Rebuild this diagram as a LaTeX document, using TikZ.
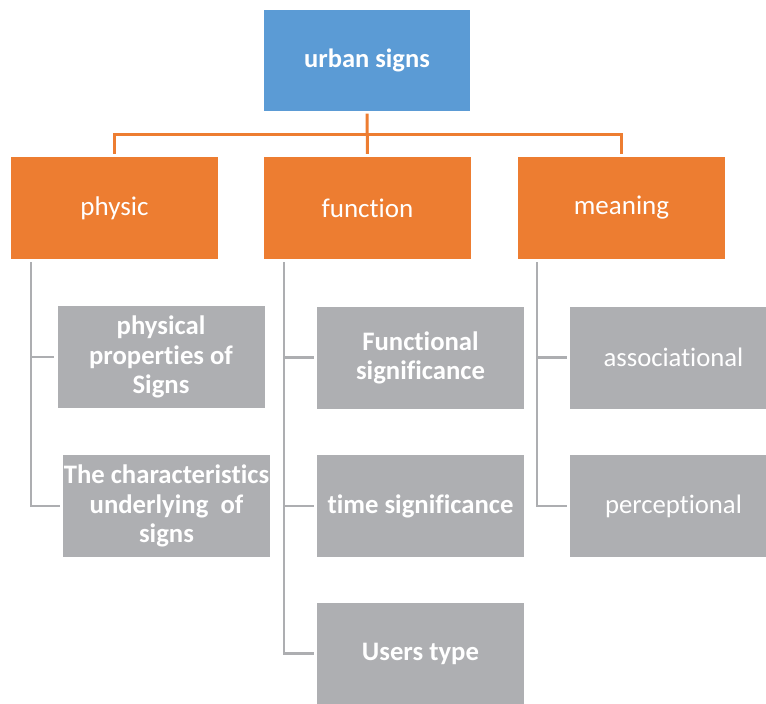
\documentclass[tikz,border=0pt]{standalone}
\usepackage{fontspec}
\setmainfont{Carlito}[Ligatures={NoCommon}]
\definecolor{rootblue}{HTML}{5B9BD5}
\definecolor{orng}{HTML}{ED7D31}
\definecolor{grybox}{HTML}{AEAFB2}
\definecolor{gryline}{HTML}{ADAEB1}
\tikzset{
  rootbox/.style={fill=rootblue, text=white, minimum width=206pt, minimum height=101pt, inner sep=0pt, align=center, font=\fontsize{26.5}{29}\selectfont\bfseries},
  catbox/.style={fill=orng, text=white, minimum width=207pt, minimum height=102pt, inner sep=0pt, align=center, font=\fontsize{27}{29}\selectfont},
  itembox/.style={fill=grybox, text=white, minimum width=207pt, minimum height=102pt, inner sep=0pt, align=center, font=\fontsize{26.7}{29.2}\selectfont\bfseries},
  itemplain/.style={itembox, font=\fontsize{26.7}{29.2}\selectfont},
  orangeline/.style={draw=orng, line width=3pt, shorten <=3pt, shorten >=3pt},
  grayline/.style={draw=gryline, line width=2.6pt, shorten >=3pt},
}
\begin{document}
\begin{tikzpicture}[x=1pt, y=-1pt]
\useasboundingbox (0,0) rectangle (766,704);
\clip (0,0) rectangle (766,704);
% top
\node[rootbox] (root) at (367,60) {urban signs};
\node[catbox] (physic) at (114.5,208) {physic};
\node[catbox] (function) at (367.5,208) {function};
\node[catbox] (meaning) at (621.5,208) {meaning};
% items
\node[itembox] (p1) at (161,357) {physical\\properties of\\Signs};
\node[itembox] (p2) at (166.5,506) {The characteristics\\underlying\ \ of\\signs};
\node[itembox] (f1) at (420.5,357.5) {Functional\\significance};
\node[itembox] (f2) at (420.5,506) {time significance};
\node[itembox] (f3) at (420.5,653.5) {Users type};
\node[itemplain] (m1) at (673.5,357.5) {associational};
\node[itemplain] (m2) at (673.5,506) {perceptional};
% orange connectors
\coordinate (bus) at (0,134);
\draw[orangeline] (root.south) -- (function.north);
\draw[orangeline] (physic.north) -- (physic.north |- bus) -- (meaning.north |- bus) -- (meaning.north);
% gray connectors
\coordinate (tp) at ([xshift=20pt,yshift=-3pt]physic.south west);
\coordinate (tf) at ([xshift=20pt,yshift=-3pt]function.south west);
\coordinate (tm) at ([xshift=19pt,yshift=-3pt]meaning.south west);
\draw[grayline] (tp) |- (p2.west);
\draw[grayline] (tp |- p1.west) -- (p1.west);
\draw[grayline] (tf) |- (f3.west);
\draw[grayline] (tf |- f1.west) -- (f1.west);
\draw[grayline] (tf |- f2.west) -- (f2.west);
\draw[grayline] (tm) |- (m2.west);
\draw[grayline] (tm |- m1.west) -- (m1.west);
\end{tikzpicture}
\end{document}
